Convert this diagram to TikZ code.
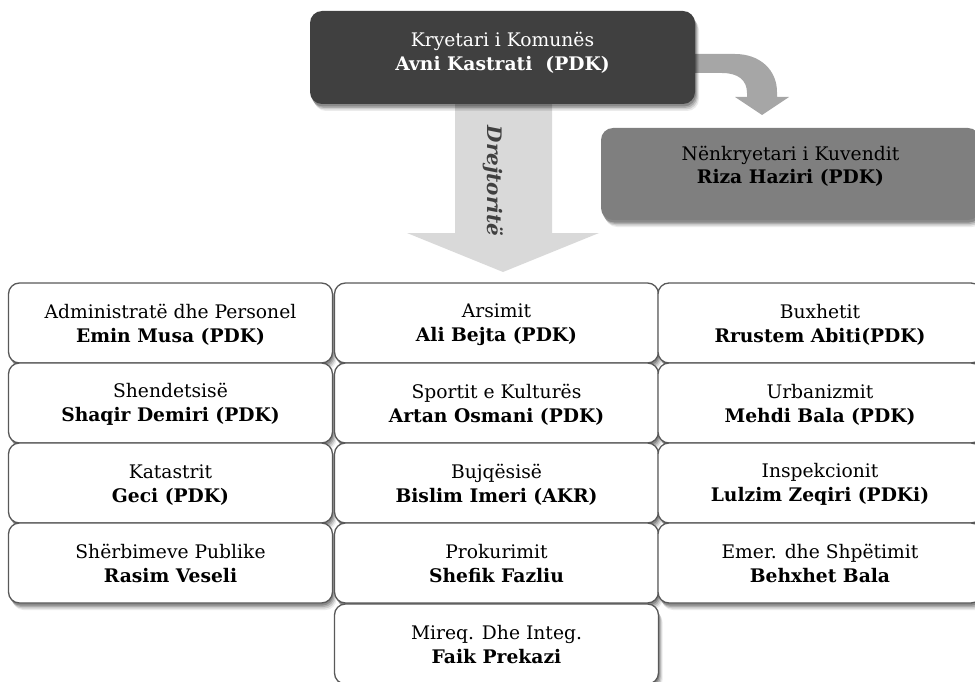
\documentclass[tikz,border=0pt]{standalone}
\usepackage{fontspec}
\setmainfont{DejaVu Serif}
\usetikzlibrary{shadows}
\definecolor{darkbox}{HTML}{404040}
\definecolor{midbox}{HTML}{7F7F7F}
\definecolor{lightarrow}{HTML}{D9D9D9}
\definecolor{curvarrow}{HTML}{A6A6A6}
\definecolor{celledge}{HTML}{595959}
\newcommand\twol[4]{\rule{0pt}{#1pt}#3\\\textbf{#4}\rule[-#2pt]{0pt}{#2pt}}
\begin{document}
\begin{tikzpicture}[x=1pt,y=-1pt,
  txt/.style={font=\fontsize{18.7}{24}\selectfont, align=center, inner sep=0pt},
  shad/.style={
    drop shadow={shadow xshift=4pt, shadow yshift=-7pt, opacity=0.08, fill=black},
    drop shadow={shadow xshift=3pt, shadow yshift=-5.5pt, opacity=0.12, fill=black},
    drop shadow={shadow xshift=2pt, shadow yshift=-4pt, opacity=0.16, fill=black},
    drop shadow={shadow xshift=1pt, shadow yshift=-2.5pt, opacity=0.2, fill=black}},
  cell/.style={txt, shad, draw=celledge, line width=1.3pt, fill=white, rounded corners=11pt,
    minimum width=324pt, minimum height=80pt},
  headbox/.style={txt, shad, rounded corners=12pt}
]
\useasboundingbox (0,0) rectangle (975,682);
\clip (0,0) rectangle (975,682);

% big downward block arrow
\fill[lightarrow] (455,100) -- (552,100) -- (552,233) -- (599,233) -- (503,272)
  -- (407,233) -- (455,233) -- cycle;
\node[font=\fontsize{20}{24}\selectfont\bfseries\itshape, text=darkbox, rotate=-90] (drej) at (493,181) {Drejtoritë};

% curved arrow to the deputy
\fill[curvarrow] (690,54) -- (735,54) .. controls (760,54) and (777,70) .. (777,92)
  -- (777,97) -- (789,97) -- (762,115) -- (735,97) -- (747,97) -- (747,93)
  .. controls (747,80) and (738,73) .. (722,73) -- (690,73) -- cycle;

% top boxes
\node[headbox, fill=darkbox, text=white, minimum width=385pt, minimum height=93pt] (kry) at (502.5,57.5)
  {\twol{15}{12}{Kryetari i Komunës}{Avni Kastrati\ \ (PDK)}};
\node[headbox, fill=midbox, text=black, minimum width=379pt, minimum height=92pt] (nen) at (790.5,174)
  {\twol{15}{19}{Nënkryetari i Kuvendit}{Riza Haziri (PDK)}};

% grid of directorates
\node[cell] (a1) at (170.5,323) {\twol{17}{3}{Administratë dhe Personel}{Emin Musa (PDK)}};
\node[cell] (b1) at (496.5,323) {\twol{17}{3}{Arsimit}{Ali Bejta (PDK)}};
\node[cell] (c1) at (820,323) {\twol{17}{3}{Buxhetit}{Rrustem Abiti(PDK)}};
\node[cell] (a2) at (170.5,403) {\twol{17}{3}{Shendetsisë}{Shaqir Demiri (PDK)}};
\node[cell] (b2) at (496.5,403) {\twol{17}{3}{Sportit e Kulturës}{Artan Osmani (PDK)}};
\node[cell] (c2) at (820,403) {\twol{17}{3}{Urbanizmit}{Mehdi Bala (PDK)}};
\node[cell] (a3) at (170.5,483) {\twol{17}{3}{Katastrit}{Geci (PDK)}};
\node[cell] (b3) at (496.5,483) {\twol{17}{3}{Bujqësisë}{Bislim Imeri (AKR)}};
\node[cell] (c3) at (820,483) {\twol{17}{3}{Inspekcionit}{Lulzim Zeqiri (PDKi)}};
\node[cell] (a4) at (170.5,563) {\twol{17}{3}{Shërbimeve Publike}{Rasim Veseli}};
\node[cell] (b4) at (496.5,563) {\twol{17}{3}{Prokurimit}{Shefik Fazliu}};
\node[cell] (c4) at (820,563) {\twol{17}{3}{Emer. dhe Shpëtimit}{Behxhet Bala}};
\node[cell] (b5) at (496.5,644) {\twol{17}{3}{Mireq. Dhe Integ.}{Faik Prekazi}};
\end{tikzpicture}
\end{document}
